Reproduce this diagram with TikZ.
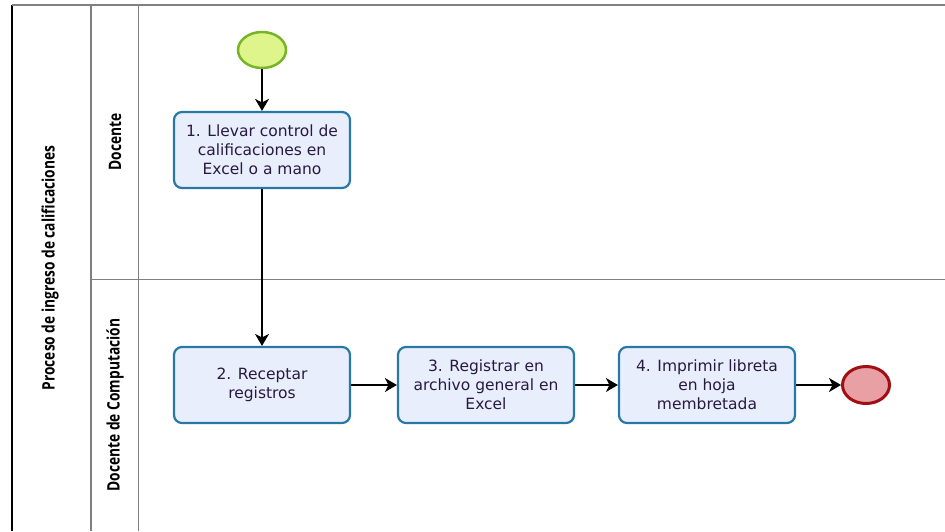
\documentclass[tikz,border=0pt]{standalone}
\usepackage{fontspec}
\setmainfont{DejaVu Sans}
\newfontfamily\lanefont[FakeStretch=0.8]{Open Sans}
\usetikzlibrary{arrows.meta, shapes.geometric}
\definecolor{taskBlue}{RGB}{40, 120, 165}
\definecolor{taskFill}{RGB}{233, 238, 252}
\definecolor{taskText}{RGB}{40, 25, 65}
\definecolor{startGreen}{RGB}{120, 180, 40}
\definecolor{startFill}{RGB}{222, 245, 140}
\definecolor{endRed}{RGB}{160, 15, 20}
\definecolor{endFill}{RGB}{232, 160, 165}
\definecolor{laneGray}{RGB}{128, 128, 128}

\begin{document}
\begin{tikzpicture}[x=1pt, y=-1pt,
  task/.style={draw=taskBlue, line width=2.2pt, fill=taskFill, rounded corners=8pt,
    minimum width=176pt, minimum height=76pt, align=center, text=taskText,
    font=\fontsize{15.5}{19}\selectfont},
  flow/.style={-{Stealth[length=12pt, width=14pt, inset=3.5pt]}, line width=1.3pt},
  lane/.style={rotate=90, font=\lanefont\bfseries\fontsize{17.2}{20}\selectfont}]

  \useasboundingbox (0, 0) rectangle (945, 531);

  % pool and lanes
  \draw[black, line width=1.8pt] (12, 5) -- (12, 531);
  \draw[laneGray, line width=1.5pt] (12, 5) -- (945, 5);
  \draw[laneGray, line width=1.2pt] (91, 5) -- (91, 531);
  \draw[laneGray, line width=1pt] (138, 5) -- (138, 531);
  \draw[laneGray, line width=1pt] (91, 279) -- (945, 279);
  \node[lane] (pool) at (50, 268) {Proceso de ingreso de calificaciones};
  \node[lane] (docente) at (115, 142) {Docente};
  \node[lane] (computo) at (115, 405) {Docente de Computación};

  % events and tasks
  \node[ellipse, draw=startGreen, fill=startFill, line width=2.5pt, inner sep=0pt,
    minimum width=48pt, minimum height=36pt] (start) at (262, 50) {};
  \node[task] (llevar) at (262, 150) {1. Llevar control de\\calificaciones en\\Excel o a mano};
  \node[task] (receptar) at (262, 385) {2. Receptar\\registros};
  \node[task] (registrar) at (486, 385) {3. Registrar en\\archivo general en\\Excel};
  \node[task] (imprimir) at (707, 385) {4. Imprimir libreta\\en hoja\\membretada};
  \node[ellipse, draw=endRed, fill=endFill, line width=3pt, inner sep=0pt,
    minimum width=47pt, minimum height=37pt] (end) at (866, 385) {};

  % sequence flows
  \draw[flow] (start) -- (llevar);
  \draw[flow] (llevar) -- (receptar);
  \draw[flow] (receptar) -- (registrar);
  \draw[flow] (registrar) -- (imprimir);
  \draw[flow] (imprimir) -- (end);

\end{tikzpicture}
\end{document}
